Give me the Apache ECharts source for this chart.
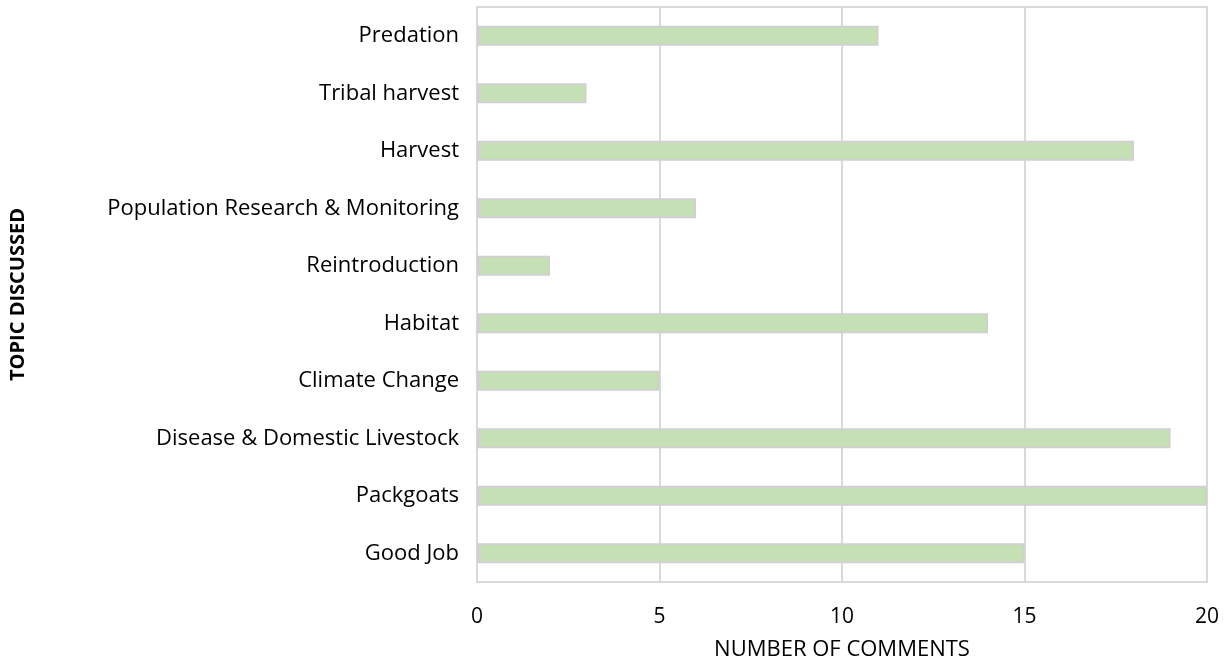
<!DOCTYPE html>
<html>
<head>
<meta charset="utf-8">
<script src="https://cdn.jsdelivr.net/npm/echarts@6/dist/echarts.min.js"></script>
<style>
  html, body { margin: 0; padding: 0; background: #fff; }
  #chart { width: 1231px; height: 661px; }
</style>
</head>
<body>
<div id="chart"></div>
<script>
// Topics, top to bottom
const topics = [
  'Predation',
  'Tribal harvest',
  'Harvest',
  'Population Research & Monitoring',
  'Reintroduction',
  'Habitat',
  'Climate Change',
  'Disease & Domestic Livestock',
  'Packgoats',
  'Good Job'
];
// Number of comments per topic
const comments = [11, 3, 18, 6, 2, 14, 5, 19, 20, 15];
const xTicks = [0, 5, 10, 15, 20];

const font = '"Open Sans", "Liberation Sans", sans-serif';
const chart = echarts.init(document.getElementById('chart'));
chart.setOption({
  animation: false,
  grid: {
    left: 477, right: 24, top: 7, bottom: 79,
    outerBoundsMode: 'none',
    show: true, borderColor: '#d9d9d9', borderWidth: 2
  },
  xAxis: {
    type: 'value',
    min: xTicks[0],
    max: xTicks[xTicks.length - 1],
    interval: 5,
    name: 'NUMBER OF COMMENTS',
    nameLocation: 'middle',
    nameGap: 57,
    nameTextStyle: { fontFamily: font, fontSize: 22, color: '#000' },
    axisLine: { show: false },
    axisTick: { show: false },
    axisLabel: { fontFamily: font, fontSize: 21, color: '#000', margin: 25 },
    splitLine: { show: true, lineStyle: { color: '#d9d9d9', width: 2 } }
  },
  yAxis: {
    type: 'category',
    data: topics,
    inverse: true,
    name: 'TOPIC DISCUSSED',
    nameLocation: 'middle',
    nameGap: 449,
    nameRotate: 90,
    nameTextStyle: { fontFamily: font, fontSize: 20, fontWeight: 'bold', color: '#000' },
    axisLine: { show: false },
    axisTick: { show: false },
    axisLabel: { fontFamily: font, fontSize: 22, color: '#000', margin: 18 },
    splitLine: { show: false }
  },
  series: [{
    type: 'bar',
    data: comments,
    barWidth: 20,
    itemStyle: { color: '#c5e0b4', borderColor: '#d0d0d0', borderWidth: 2 }
  }]
});
</script>
</body>
</html>
